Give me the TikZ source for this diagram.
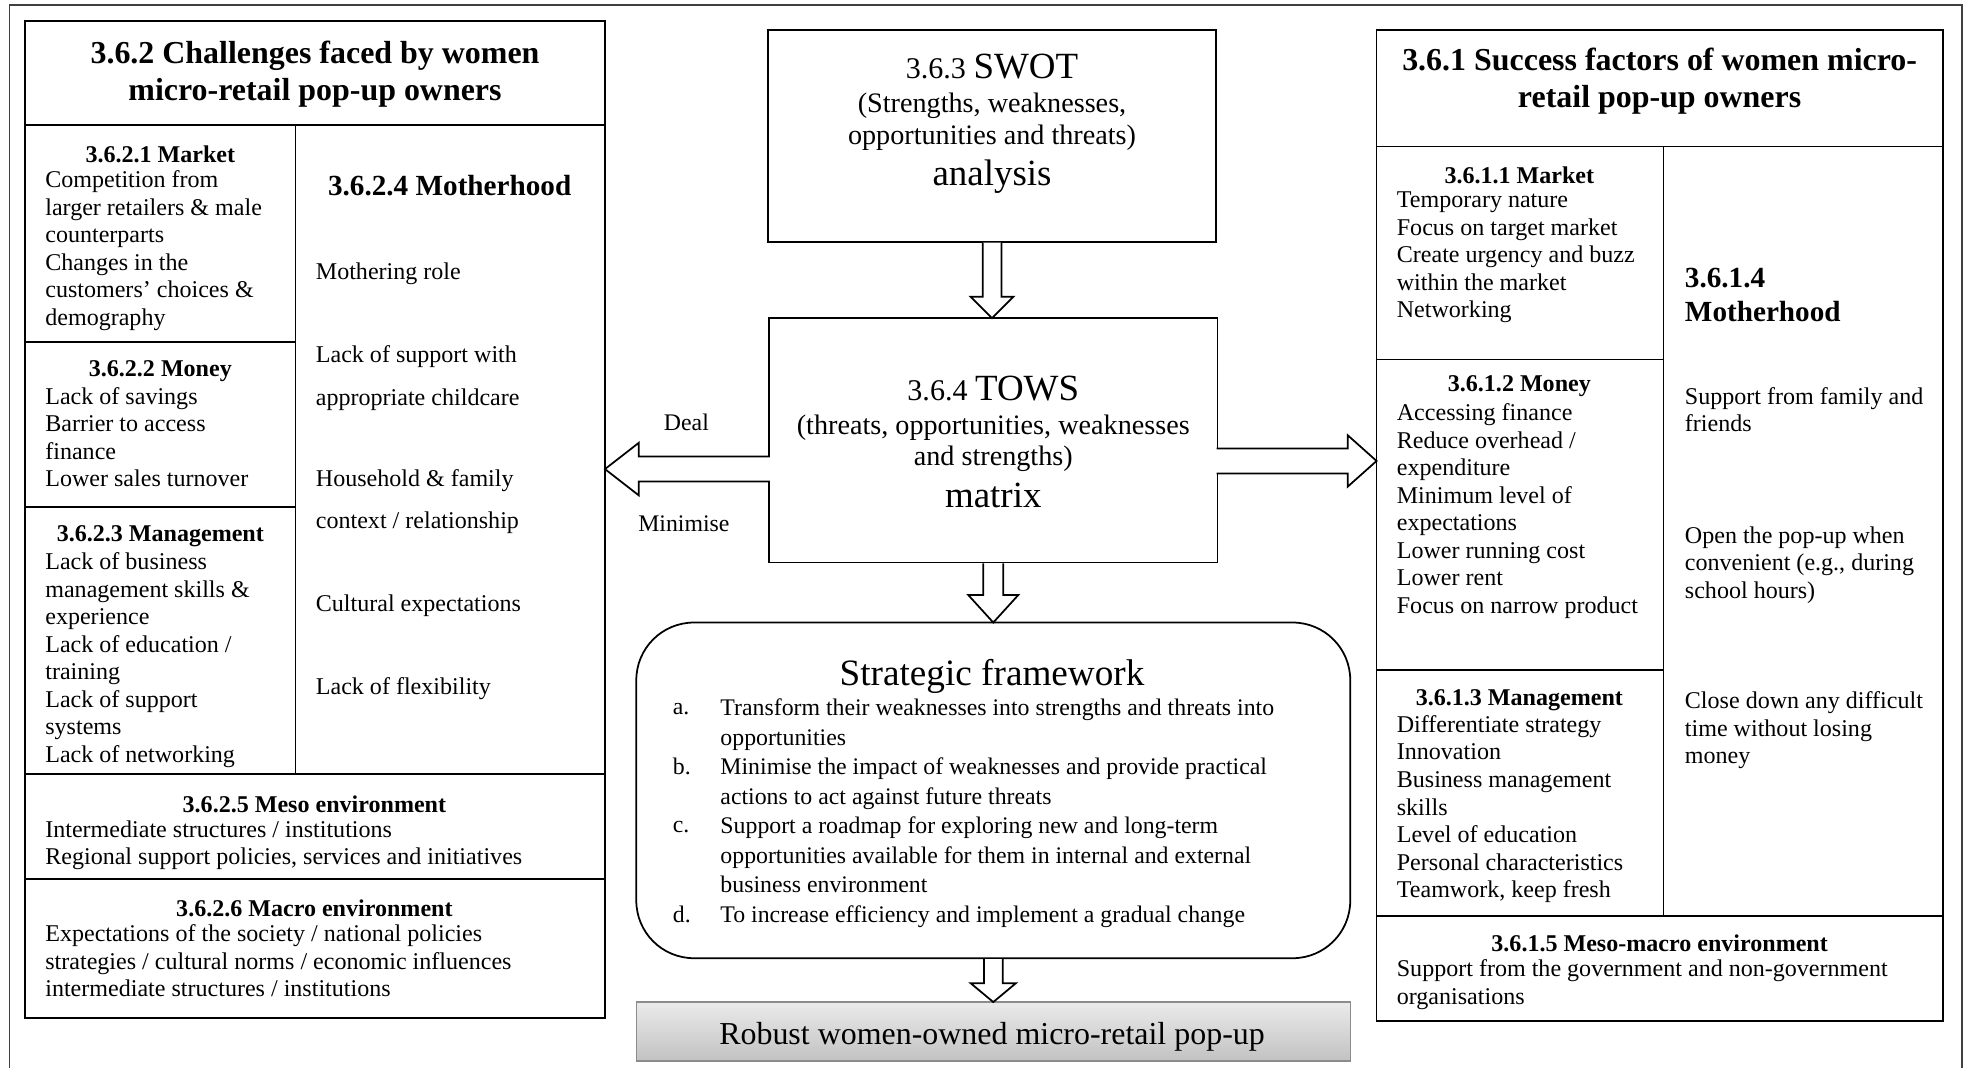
\documentclass[tikz,border=0pt]{standalone}
\usepackage{fontspec}
\setmainfont{Liberation Serif}
\usetikzlibrary{calc}
% rectangular cell: [options]{name}{x1}{y1}{x2}{y2}
\newcommand\cellnode[6][]{\node[cellbox,#1,minimum width={#5-#3},minimum height={#6-#4}] (#2) at (#3,#4) {};}
% hollow block arrow pointing down: {from}{to}{shaft half}{head half}{head length}
\newcommand\downblock[5]{\draw[blockarrow] let \p1=(#1.south), \p2=(#2.north) in
  (\x1-#3pt,\y1-0.7pt) -- (\x1-#3pt,\y2+#5pt) -- (\x1-#4pt,\y2+#5pt) -- (\x1,\y2)
  -- (\x1+#4pt,\y2+#5pt) -- (\x1+#3pt,\y2+#5pt) -- (\x1+#3pt,\y1-0.7pt);}

\begin{document}
\begin{tikzpicture}[x=1pt,y=-1pt,
  cellbox/.style={draw=black,line width=1.4pt,inner sep=0pt,outer sep=0pt,anchor=north west},
  txt/.style={inner sep=0pt,align=left,anchor=north west,font=\fontsize{19.2}{22}\selectfont},
  hd/.style={inner sep=0pt,font=\bfseries\fontsize{19.2}{22}\selectfont},
  mhd/.style={inner sep=0pt,align=left,font=\bfseries\fontsize{23.3}{27}\selectfont},
  ttl/.style={inner sep=0pt,align=center,font=\bfseries\fontsize{25.5}{29.5}\selectfont},
  arrowlabel/.style={inner sep=0pt,anchor=base,font=\fontsize{19}{22}\selectfont},
  bigline/.style={inner sep=0pt,anchor=base},
  listtxt/.style={inner sep=0pt,align=left,anchor=north west,font=\fontsize{19}{23.5}\selectfont},
  blockarrow/.style={draw=black,fill=white,line width=1.4pt,line join=miter},
  frameline/.style={draw=black!75,line width=1.1pt}]

\useasboundingbox (0,0) rectangle (1568,852);
\draw[frameline] (7.5,870) -- (7.5,4) -- (1566.5,4) -- (1566.5,870);

% ---------------- boxes ----------------
% challenges (left)
\cellnode{ltitle}{20}{17}{483}{100}
\cellnode{lmarket}{20}{100}{236}{273}
\cellnode{lmoney}{20}{273}{236}{405}
\cellnode{lmgmt}{20}{405}{236}{618}
\cellnode{lmoth}{236}{100}{483}{618}
\cellnode{lmeso}{20}{618}{483}{702}
\cellnode{lmacro}{20}{702}{483}{813}
% centre column
\cellnode{swot}{613}{24}{971}{193}
\cellnode{tows}{614}{254}{972}{449}
\cellnode[rounded corners=46pt]{strat}{508}{497}{1078}{765}
\cellnode[draw=black!45,line width=1pt,top color=black!8,bottom color=black!24]{robust}{508}{800}{1078}{847}
% success factors (right)
\cellnode{rtitle}{1099}{24}{1551}{117}
\cellnode{rmarket}{1099}{117}{1328}{287}
\cellnode{rmoney}{1099}{287}{1328}{535}
\cellnode{rmgmt}{1099}{535}{1328}{731}
\cellnode{rmoth}{1328}{117}{1551}{731}
\cellnode{rmeso}{1099}{731}{1551}{815}

% ---------------- texts ----------------
\begin{scope}[shift={(0,2)}]
\node[ttl] (ltitleT) at (251.5,57) {3.6.2 Challenges faced by women\\micro-retail pop-up owners};

\node[hd] (lmarketH) at (128,121) {3.6.2.1 Market};
\node[txt] (lmarketT) at (36,134) {Competition from\\larger retailers \& male\\counterparts\\Changes in the\\customers’ choices \&\\demography};

\node[hd] (lmoneyH) at (128,294) {3.6.2.2 Money};
\node[txt] (lmoneyT) at (36,307) {Lack of savings\\Barrier to access\\finance\\Lower sales turnover};

\node[hd] (lmgmtH) at (128,426) {3.6.2.3 Management};
\node[txt] (lmgmtT) at (36,439) {Lack of business\\management skills \&\\experience\\Lack of education /\\training\\Lack of support\\systems\\Lack of networking};

\node[mhd] (lmothH) at (359,146) {3.6.2.4 Motherhood};
\node[txt] (lmothA) at (252,208) {Mothering role};
\node[txt,font=\fontsize{19.2}{34}\selectfont] (lmothB) at (252,274) {Lack of support with\\appropriate childcare};
\node[txt,font=\fontsize{19.2}{33}\selectfont] (lmothC) at (252,373) {Household \& family\\context / relationship};
\node[txt] (lmothD) at (252,473) {Cultural expectations};
\node[txt] (lmothE) at (252,539) {Lack of flexibility};

\node[hd] (lmesoH) at (251,640) {3.6.2.5 Meso environment};
\node[txt] (lmesoT) at (36,653) {Intermediate structures / institutions\\Regional support policies, services and initiatives};

\node[hd] (lmacroH) at (251,723) {3.6.2.6 Macro environment};
\node[txt] (lmacroT) at (36,736) {Expectations of the society / national policies\\strategies / cultural norms / economic influences\\intermediate structures / institutions};

\node[bigline] (swotA) at (792,61) {{\fontsize{24}{28}\selectfont 3.6.3 }{\fontsize{29.5}{34}\selectfont SWOT}};
\node[bigline,font=\fontsize{22.5}{26}\selectfont] (swotB) at (792,88) {(Strengths, weaknesses,};
\node[bigline,font=\fontsize{22.5}{26}\selectfont] (swotC) at (792,113) {opportunities and threats)};
\node[bigline,font=\fontsize{29.5}{34}\selectfont] (swotD) at (792,146) {analysis};

\node[bigline] (towsA) at (793,318) {{\fontsize{24}{28}\selectfont 3.6.4 }{\fontsize{29.5}{34}\selectfont TOWS}};
\node[bigline,font=\fontsize{22.5}{26}\selectfont] (towsB) at (793,345) {(threats, opportunities, weaknesses};
\node[bigline,font=\fontsize{22.5}{26}\selectfont] (towsC) at (793,370) {and strengths)};
\node[bigline,font=\fontsize{29.5}{34}\selectfont] (towsD) at (793,403) {matrix};

\node[bigline,font=\fontsize{29.7}{34}\selectfont] (stratH) at (792,545) {Strategic framework};
\node[listtxt] (stratLa) at (537,556) {\vphantom{T}a.};
\node[listtxt] (stratA) at (575,556) {Transform their weaknesses into strengths and threats into\\opportunities};
\node[listtxt] (stratLb) at (537,603) {\vphantom{T}b.};
\node[listtxt] (stratB) at (575,603) {Minimise the impact of weaknesses and provide practical\\actions to act against future threats};
\node[listtxt] (stratLc) at (537,650) {\vphantom{T}c.};
\node[listtxt] (stratC) at (575,650) {Support a roadmap for exploring new and long-term\\opportunities available for them in internal and external\\business environment};
\node[listtxt] (stratLd) at (537,721) {\vphantom{T}d.};
\node[listtxt] (stratD) at (575,721) {To increase efficiency and implement a gradual change};

\node[bigline,font=\fontsize{25.5}{30}\selectfont] (robustT) at (792,832) {Robust women-owned micro-retail pop-up};

\node[ttl] (rtitleT) at (1325,63) {3.6.1 Success factors of women micro-\\retail pop-up owners};

\node[hd] (rmarketH) at (1213,138) {3.6.1.1 Market};
\node[txt] (rmarketT) at (1115,151) {Temporary nature\\Focus on target market\\Create urgency and buzz\\within the market\\Networking};

\node[hd] (rmoneyH) at (1213,306) {3.6.1.2 Money};
\node[txt] (rmoneyT) at (1115,320) {Accessing finance\\Reduce overhead /\\expenditure\\Minimum level of\\expectations\\Lower running cost\\Lower rent\\Focus on narrow product};

\node[hd] (rmgmtH) at (1213,557) {3.6.1.3 Management};
\node[txt] (rmgmtT) at (1115,569) {Differentiate strategy\\Innovation\\Business management\\skills\\Level of education\\Personal characteristics\\Teamwork, keep fresh};

\node[mhd,anchor=north west] (rmothH) at (1345,212) {3.6.1.4\\Motherhood};
\node[txt] (rmothA) at (1345,307) {Support from family and\\friends};
\node[txt] (rmothB) at (1345,418) {Open the pop-up when\\convenient (e.g., during\\school hours)};
\node[txt] (rmothC) at (1345,550) {Close down any difficult\\time without losing\\money};

\node[hd] (rmesoH) at (1325,751) {3.6.1.5 Meso-macro environment};
\node[txt] (rmesoT) at (1115,764) {Support from the government and non-government\\organisations};

\node[arrowlabel] (deal) at (548,342) {Deal};
\node[arrowlabel] (minim) at (546,422) {Minimise};
\end{scope}

% ---------------- block arrows ----------------
\downblock{swot}{tows}{7.5}{17}{17}
\downblock{tows}{strat}{8}{20}{22}
\downblock{strat}{robust}{7.5}{18}{15}

\draw[blockarrow] let \p1=($(tows.west)+(0,23)$), \p2=(lmoth.east) in
  (\x1+0.7pt,\y1+10pt) -- (\x2+27pt,\y1+10pt) -- (\x2+27pt,\y1+21pt) -- (\x2,\y1)
  -- (\x2+27pt,\y1-21pt) -- (\x2+27pt,\y1-10pt) -- (\x1+0.7pt,\y1-10pt);
\draw[blockarrow] let \p1=($(tows.east)+(0,16.5)$), \p2=(rmoney.west) in
  (\x1-0.7pt,\y1+10pt) -- (\x2-23pt,\y1+10pt) -- (\x2-23pt,\y1+20.5pt) -- (\x2,\y1)
  -- (\x2-23pt,\y1-20.5pt) -- (\x2-23pt,\y1-10pt) -- (\x1-0.7pt,\y1-10pt);
\end{tikzpicture}
\end{document}
